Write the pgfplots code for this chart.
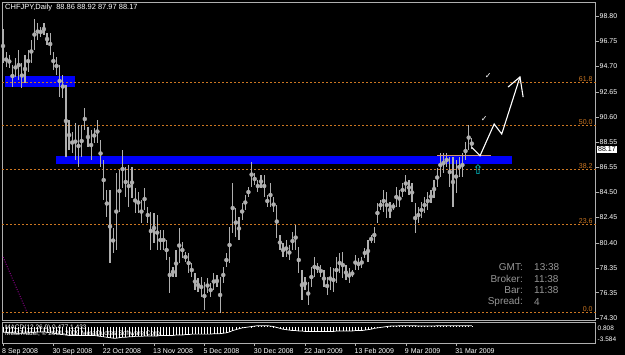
\documentclass[border=0pt]{standalone}
\usepackage{pgfplots}
\usepackage{pgfplotstable}
\pgfplotsset{compat=1.18}
\usepackage{fontspec}
\setmainfont{Liberation Sans}
\newfontfamily\dejavu{DejaVu Sans}
\definecolor{fibcol}{RGB}{204,119,34}
\definecolor{framegray}{RGB}{175,175,175}
\definecolor{barcol}{RGB}{175,175,175}
\definecolor{bandblue}{RGB}{0,0,250}
\definecolor{tanline}{RGB}{210,150,110}
\definecolor{arrcyan}{RGB}{0,210,220}
\definecolor{fibpurple}{RGB}{170,0,170}
\definecolor{infogray}{RGB}{150,150,150}
\pgfplotstableread{
i h l m
0 97.74 94.98 -1.2
1 95.87 94.66 -1.2
2 95.63 94.58 -1.3
3 94.82 93.03 -1.3
4 95.39 93.85 -1.4
5 96.03 93.60 -1.4
6 94.98 92.95 -1.4
7 95.63 93.36 -1.4
8 96.03 94.25 -1.3
9 96.85 94.98 -1.3
10 98.55 96.03 -1.2
11 98.22 96.85 -1.1
12 97.90 97.09 -1.1
13 98.22 97.25 -1.1
14 97.41 96.44 -1.2
15 97.41 95.63 -1.3
16 95.87 94.41 -1.4
17 95.47 94.01 -1.5
18 94.82 92.22 -1.6
19 94.01 92.14 -1.7
20 93.20 87.36 -1.8
21 90.36 87.92 -1.9
22 89.38 87.68 -1.9
23 90.11 87.11 -1.9
24 89.95 86.55 -1.9
25 89.95 87.36 -1.9
26 91.33 89.55 -1.9
27 89.79 88.17 -1.9
28 89.55 87.11 -1.9
29 89.71 88.49 -1.9
30 90.36 88.49 -2.0
31 88.74 86.55 -2.1
32 87.11 83.87 -2.2
33 84.68 82.49 -2.3
34 84.68 78.76 -2.4
35 81.60 79.57 -2.5
36 86.06 79.81 -2.5
37 86.30 82.90 -2.4
38 87.92 84.84 -2.3
39 86.55 84.11 -2.3
40 86.71 83.30 -2.2
41 86.55 84.03 -2.2
42 84.84 82.82 -2.1
43 84.52 82.82 -2.1
44 83.87 82.00 -2.1
45 84.84 83.06 -2.0
46 83.30 82.00 -2.0
47 82.90 79.81 -2.0
48 82.82 80.38 -2.0
49 82.65 79.81 -2.0
50 81.44 79.81 -1.9
51 81.44 79.81 -1.9
52 80.63 79.00 -1.9
53 79.25 76.33 -1.9
54 78.44 77.63 -1.9
55 79.81 77.63 -1.8
56 81.60 78.76 -1.8
57 80.46 79.17 -1.8
58 79.65 78.84 -1.7
59 79.57 77.95 -1.7
60 78.76 77.63 -1.6
61 77.95 76.57 -1.6
62 77.54 76.41 -1.6
63 77.63 76.00 -1.6
64 77.22 74.95 -1.6
65 77.54 76.33 -1.6
66 77.14 76.00 -1.6
67 77.95 76.57 -1.5
68 77.79 76.81 -1.5
69 77.63 74.71 -1.5
70 78.44 77.14 -1.4
71 79.57 78.44 -1.3
72 81.68 78.76 -1.1
73 85.25 81.19 -0.8
74 83.22 80.87 -0.6
75 82.49 80.63 -0.4
76 83.63 82.25 -0.2
77 84.28 83.06 -0.1
78 84.92 84.11 0.0
79 86.95 84.92 0.1
80 86.06 85.09 0.2
81 85.49 84.52 0.3
82 85.90 84.84 0.3
83 85.90 84.11 0.3
84 84.28 83.30 0.3
85 85.25 83.30 0.2
86 84.11 82.90 0.1
87 83.46 80.79 -0.1
88 81.03 79.81 -0.3
89 80.38 79.25 -0.5
90 80.63 79.25 -0.6
91 80.22 79.00 -0.7
92 81.27 79.81 -0.8
93 81.84 79.81 -0.8
94 80.06 77.95 -0.9
95 78.19 75.76 -0.9
96 77.63 76.57 -1.0
97 77.22 75.35 -1.0
98 78.44 76.81 -1.0
99 79.25 77.63 -1.0
100 78.76 77.95 -1.0
101 78.60 77.63 -1.0
102 78.19 76.81 -1.0
103 77.63 76.17 -1.0
104 78.44 76.57 -1.0
105 78.36 76.41 -1.0
106 79.25 77.14 -0.9
107 79.57 77.95 -0.9
108 79.65 77.54 -0.9
109 78.60 77.38 -0.9
110 78.36 77.14 -0.9
111 78.19 77.63 -0.9
112 79.41 78.19 -0.8
113 79.17 78.19 -0.8
114 79.25 78.36 -0.8
115 79.98 79.17 -0.7
116 80.63 78.84 -0.6
117 81.03 80.38 -0.5
118 81.68 80.38 -0.3
119 83.63 82.00 -0.2
120 83.87 83.06 -0.1
121 84.68 82.90 0.0
122 84.52 82.41 0.1
123 83.71 82.41 0.2
124 83.63 83.06 0.2
125 84.92 83.30 0.2
126 84.68 83.30 0.3
127 85.25 84.11 0.3
128 85.90 84.52 0.3
129 85.49 84.28 0.3
130 85.25 83.71 0.3
131 83.63 81.19 0.3
132 83.30 82.00 0.2
133 83.71 82.41 0.2
134 84.11 82.82 0.2
135 84.52 83.06 0.2
136 84.68 83.63 0.2
137 85.49 84.03 0.2
138 86.47 84.92 0.3
139 87.68 85.74 0.3
140 87.68 86.06 0.3
141 87.68 86.55 0.3
142 87.36 84.92 0.3
143 87.36 83.30 0.3
144 87.11 84.44 0.3
145 87.36 85.74 0.3
146 87.68 85.74 0.3
147 88.57 87.11 0.3
148 89.95 87.92 0.3
149 88.92 87.97 0.3
}\bars
\begin{document}
\begin{tikzpicture}[x=1pt,y=1pt]
\fill[black] (0,0) rectangle (625,355);
\useasboundingbox (0,0) rectangle (625,355);
\begin{axis}[
  at={(2pt,35pt)}, anchor=south west, scale only axis,
  width=593.5pt, height=318pt,
  xmin=-0.32, xmax=188.3, ymin=74.14, ymax=99.93,
  clip=false,
  axis line style={draw=framegray, line width=0.6pt},
  xtick=\empty,
  ytick={74.30,76.35,78.35,80.40,82.45,84.50,86.55,88.55,90.60,92.65,94.70,96.75,98.80},
  yticklabels={74.30,76.35,78.35,80.40,82.45,84.50,86.55,88.55,90.60,92.65,94.70,96.75,98.80},
  ytick pos=right, yticklabel pos=right, tick align=outside,
  major tick length=3pt,
  tick style={draw=framegray, line width=0.5pt},
  yticklabel style={font=\fontsize{7}{8}\selectfont, text=white, inner sep=1pt},
]
% zones
\addplot[fill=bandblue, draw=none] coordinates {(0.64,93.03) (22.9,93.03) (22.9,93.93) (0.64,93.93)} -- cycle;
\addplot[fill=bandblue, draw=none] coordinates {(16.8,86.81) (161.8,86.81) (161.8,87.44) (16.8,87.44)} -- cycle;
% fibonacci levels
\addplot[fibcol, line width=0.6pt, dash pattern=on 2pt off 2pt] coordinates {(-0.32,93.44) (188.3,93.44)};
\addplot[fibcol, line width=0.6pt, dash pattern=on 2pt off 2pt] coordinates {(-0.32,89.95) (188.3,89.95)};
\addplot[fibcol, line width=0.6pt, dash pattern=on 2pt off 2pt] coordinates {(-0.32,86.38) (188.3,86.38)};
\addplot[fibcol, line width=0.6pt, dash pattern=on 2pt off 2pt] coordinates {(-0.32,81.92) (188.3,81.92)};
\addplot[fibcol, line width=0.6pt, dash pattern=on 2pt off 2pt] coordinates {(-0.32,74.79) (188.3,74.79)};
\addplot[fibpurple, line width=0.8pt, dash pattern=on 1pt off 1.5pt] coordinates {(0,79.25) (7.6,74.79)};
% price bars
\addplot[barcol, only marks, mark=none, error bars/.cd, y dir=both, y explicit, error mark=none,
  error bar style={barcol, line width=1.2pt}]
  table[x=i, y expr={(\thisrow{h}+\thisrow{l})/2}, y error expr={(\thisrow{h}-\thisrow{l})/2}] {\bars};
% breakout line and projection
\addplot[tanline, line width=1.2pt] coordinates {(138,87.47) (155.1,87.47)};
\addplot[white, line width=1.1pt] coordinates {(149.0,88.14) (151.6,87.46) (156.1,90.03) (158.5,89.22) (164.3,93.85)};
\addplot[white, line width=1.1pt] coordinates {(160.5,93.03) (164.3,93.85) (165.3,92.22)};
\node[text=white, font=\dejavu\fontsize{8}{9}\selectfont, inner sep=0pt] at (axis cs:154.2,93.93) {✓};
\node[text=white, font=\dejavu\fontsize{8}{9}\selectfont, inner sep=0pt] at (axis cs:152.9,90.44) {✓};
\node[text=arrcyan, font=\dejavu\fontsize{13}{13}\selectfont, inner sep=0pt] at (axis cs:151,86.3) {⇧};
% level labels
\node[anchor=south east, inner sep=0.6pt, text=fibcol, font=\fontsize{7}{8}\selectfont] at (axis cs:187.6,93.44) {61.8};
\node[anchor=south east, inner sep=0.6pt, text=fibcol, font=\fontsize{7}{8}\selectfont] at (axis cs:187.6,89.95) {50.0};
\node[anchor=south east, inner sep=0.6pt, text=fibcol, font=\fontsize{7}{8}\selectfont] at (axis cs:187.6,86.38) {38.2};
\node[anchor=south east, inner sep=0.6pt, text=fibcol, font=\fontsize{7}{8}\selectfont] at (axis cs:187.6,81.92) {23.6};
\node[anchor=south east, inner sep=0.6pt, text=fibcol, font=\fontsize{7}{8}\selectfont] at (axis cs:187.6,74.79) {0.0};
\node[anchor=west, fill=white, text=black, inner sep=1pt, font=\fontsize{7}{8}\selectfont] at (axis cs:188.3,88.0) [xshift=1.5pt] {88.17};
\node[anchor=north west, inner sep=0pt, text=white, font=\fontsize{7.5}{8}\selectfont] at (rel axis cs:0,1) [xshift=3pt, yshift=-2pt] {CHFJPY,Daily\ \ 88.86 88.92 87.97 88.17};
\end{axis}
% info block
\begin{scope}[font=\fontsize{10}{11}\selectfont, text=infogray, inner sep=0pt]
\node[anchor=east] at (523,88) {GMT:};
\node[anchor=west] at (534,88) {13:38};
\node[anchor=east] at (523,76) {Broker:};
\node[anchor=west] at (534,76) {11:38};
\node[anchor=east] at (523,65) {Bar:};
\node[anchor=west] at (534,65) {11:38};
\node[anchor=east] at (523,53) {Spread:};
\node[anchor=west] at (534,53) {4};
\end{scope}
\begin{axis}[
  at={(2pt,12pt)}, anchor=south west, scale only axis,
  width=593.5pt, height=21pt,
  xmin=-0.32, xmax=188.3, ymin=-3.584, ymax=1.12,
  clip=false,
  axis line style={draw=framegray, line width=0.6pt},
  ytick=\empty,
  xtick={0,16,32,48,64,80,96,112,128,144},
  xticklabels={8 Sep 2008,30 Sep 2008,22 Oct 2008,13 Nov 2008,5 Dec 2008,30 Dec 2008,22 Jan 2009,13 Feb 2009,9 Mar 2009,31 Mar 2009},
  xtick pos=bottom, tick align=outside, major tick length=3pt,
  tick style={draw=framegray, line width=0.5pt},
  xticklabel style={font=\fontsize{7}{8}\selectfont, text=white, anchor=north west, inner sep=0pt, xshift=-1pt, yshift=-2.5pt},
]
\addplot[white, ycomb, line width=0.6pt] table[x=i, y=m] {\bars};
\addplot[white, line width=0.7pt] table[x=i, y=m] {\bars};
\node[anchor=north west, inner sep=0pt, text=white, font=\fontsize{6.5}{7}\selectfont] at (rel axis cs:0,1) [xshift=3pt, yshift=-3pt] {MACD(12,26,9) 0.477 1.433};
\node[anchor=north west, inner sep=0pt, text=white, font=\fontsize{6.5}{7}\selectfont] at (rel axis cs:0,1) [xshift=3pt, yshift=-9pt] {MetaTrader, © 2001-2009 MetaQuotes Software Corp.};
\node[anchor=west, inner sep=0pt, text=white, font=\fontsize{6.5}{7}\selectfont] at (rel axis cs:1,1) [xshift=2pt, yshift=-6pt] {0.808};
\node[anchor=west, inner sep=0pt, text=white, font=\fontsize{6.5}{7}\selectfont] at (rel axis cs:1,0) [xshift=2pt, yshift=4pt] {-3.584};
\end{axis}
\end{tikzpicture}
\end{document}
